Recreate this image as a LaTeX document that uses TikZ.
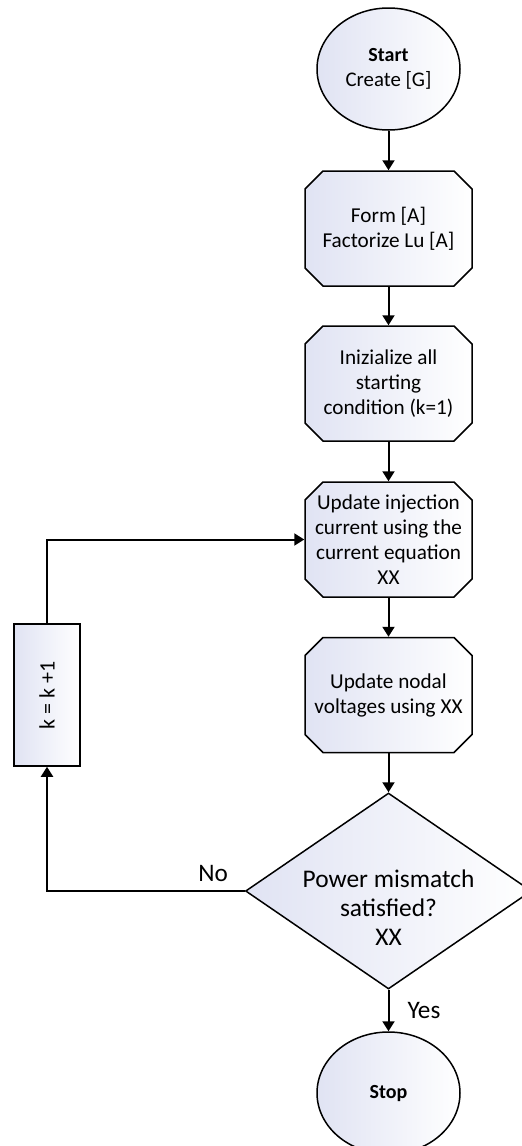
\documentclass[tikz,border=0pt]{standalone}
\usepackage{fontspec}
\setmainfont{Carlito}
\usetikzlibrary{shapes.geometric,shapes.misc,arrows.meta}
\definecolor{lav}{RGB}{224,227,243}
\begin{document}
\begin{tikzpicture}[x=0.5pt,y=-0.5pt,
  shadefill/.style={left color=lav, right color=white},
  term/.style={ellipse, draw, line width=0.75pt, shadefill, minimum width=71.5pt,
    minimum height=61pt, inner sep=0pt, align=center, font=\fontsize{10.4}{12.5}\selectfont},
  proc/.style={chamfered rectangle, chamfered rectangle xsep=4.5pt, chamfered rectangle ysep=4.5pt,
    draw, line width=0.75pt, shadefill, minimum width=83.5pt, minimum height=57.5pt,
    inner sep=0pt, align=center, font=\fontsize{10.6}{12.5}\selectfont},
  decision/.style={diamond, draw, line width=0.75pt, shadefill, minimum width=143pt,
    minimum height=98pt, inner sep=0pt},
  dectext/.style={align=center, inner sep=0pt, font=\fontsize{12.7}{14.5}\selectfont},
  incr/.style={rectangle, draw, line width=0.75pt, shadefill, minimum width=33pt,
    minimum height=71pt, inner sep=0pt, font=\fontsize{11}{13}\selectfont},
  lbl/.style={font=\fontsize{12.6}{14}\selectfont, inner sep=0pt},
  conn/.style={draw, line width=1pt, -{Triangle[length=5pt,width=6pt]}}
]
\useasboundingbox (0,0) rectangle (522,1146);

% main chain of steps
\node[term] (start) at (388.5,69) {{\fontsize{10}{12.5}\selectfont\bfseries Start}\\Create [G]};
\node[proc] (b1) at (388.5,228.5) {Form [A]\\Factorize Lu [A]};
\node[proc] (b2) at (388.5,383.5) {Inizialize all\\starting\\condition (k=1)};
\node[proc] (b3) at (388.5,539.5) {Update injection\\current using the\\current equation\\XX};
\node[proc] (b4) at (388.5,695) {Update nodal\\voltages using XX};
\node[decision] (dec) at (388.5,891) {};
\node[dectext] (dectx) at (388.5,908) {Power mismatch\\satisfied?\\XX};
\node[term] (stop) at (388.5,1093) {{\fontsize{10}{12.5}\selectfont\bfseries Stop}};

% iteration counter
\node[incr] (kbox) at (47,695) {\rotatebox{90}{k = k +1}};

% connectors
\draw[conn] (start.south) -- (b1.north);
\draw[conn] (b1.south) -- (b2.north);
\draw[conn] (b2.south) -- (b3.north);
\draw[conn] (b3.south) -- (b4.north);
\draw[conn] (b4.south) -- (dec.north);
\draw[conn] (dec.south) -- node[lbl, right, xshift=9pt] {Yes} (stop.north);
\draw[conn] (dec.west) -- node[lbl, pos=0.16, above, yshift=4pt] {No} (dec.west -| kbox.south) -- (kbox.south);
\draw[conn] (kbox.north) |- (b3.west);
\end{tikzpicture}
\end{document}
